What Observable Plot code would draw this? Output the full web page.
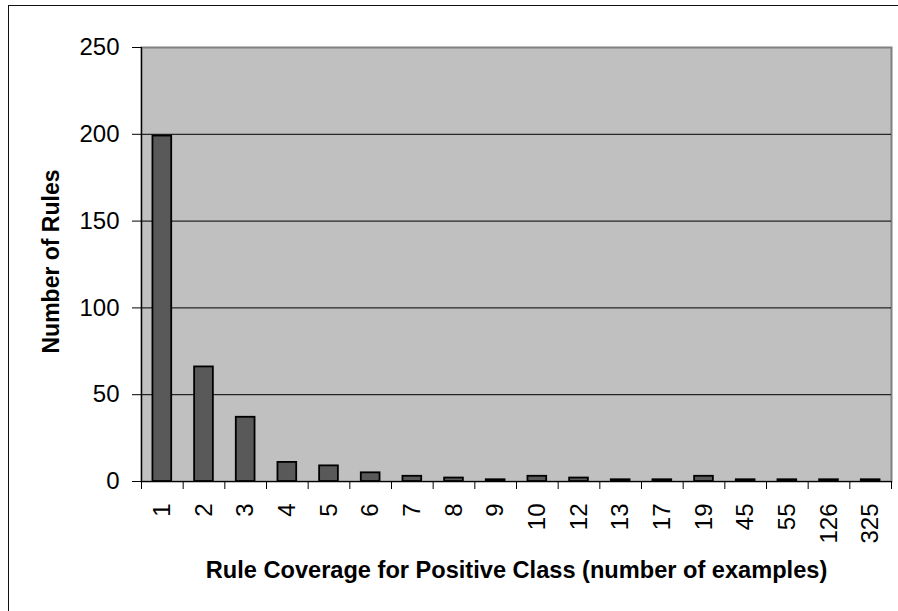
<!DOCTYPE html>
<html>
<head>
<meta charset="utf-8">
<script src="https://cdn.jsdelivr.net/npm/d3@7"></script>
<script src="https://cdn.jsdelivr.net/npm/@observablehq/plot@0.6"></script>
<style>
  html, body { margin: 0; padding: 0; background: #fff; }
  #wrap { position: relative; width: 898px; height: 611px; overflow: hidden; }
  #frame { position: absolute; left: 8px; top: 5px; width: 900px; height: 620px; border: 1.5px solid #111; box-sizing: border-box; }
  #chart { position: absolute; left: 0; top: 0; }
  svg { font-family: "Liberation Sans", Arial, sans-serif; }
</style>
</head>
<body>
<div id="wrap"><div id="frame"></div><div id="chart"></div></div>
<script>
const categories = ["1","2","3","4","5","6","7","8","9","10","12","13","17","19","45","55","126","325"];
const counts = [199, 66, 37, 11, 9, 5, 3, 2, 1, 3, 2, 1, 1, 3, 1, 1, 1, 1];
const yTicks = [0, 50, 100, 150, 200, 250];
const gridValues = [50, 100, 150, 200];
const xTitle = "Rule Coverage for Positive Class (number of examples)";
const yTitle = "Number of Rules";

const data = categories.map((c, i) => ({category: c, count: counts[i]}));
const boundaries = d3.range(categories.length + 1);

const plot = Plot.plot({
  width: 898,
  height: 611,
  marginLeft: 141,
  marginRight: 7,
  marginTop: 47,
  marginBottom: 130,
  style: {fontFamily: "Liberation Sans, Arial, sans-serif", background: "transparent"},
  x: {domain: [0, categories.length], axis: null},
  y: {domain: [0, 250], axis: null},
  marks: [
    Plot.frame({fill: "#c0c0c0", stroke: "#808080", strokeWidth: 2}),
    Plot.ruleY(gridValues, {stroke: "#000", strokeWidth: 1}),
    Plot.rectY(data, {
      x1: (d, i) => i + 0.275,
      x2: (d, i) => i + 0.725,
      y: "count",
      fill: "#595959",
      stroke: "#000",
      strokeWidth: 1.8
    }),
    Plot.ruleX([0], {stroke: "#000", strokeWidth: 1.2}),
    Plot.ruleY([0], {stroke: "#000", strokeWidth: 1.2}),
    Plot.axisY({
      ticks: yTicks,
      tickSize: 9,
      tickPadding: 13,
      fontSize: 24,
      tickFormat: d => String(d),
      label: null,
      stroke: "#000"
    }),
    Plot.axisX({
      ticks: boundaries,
      tickSize: 8,
      tickFormat: () => "",
      label: null,
      stroke: "#000"
    }),
    Plot.axisX({
      ticks: categories.map((c, i) => i + 0.5),
      tickSize: 0,
      tickPadding: 22,
      tickRotate: -90,
      fontSize: 24,
      tickFormat: d => categories[Math.round(d - 0.5)],
      label: null
    }),
    Plot.text([xTitle], {
      frameAnchor: "bottom",
      dy: 89,
      lineAnchor: "middle",
      textAnchor: "middle",
      fontSize: 23.6,
      fontWeight: "bold",
      fill: "#000"
    }),
    Plot.text([yTitle], {
      frameAnchor: "left",
      dx: -90,
      dy: -3,
      rotate: -90,
      textAnchor: "middle",
      lineAnchor: "middle",
      fontSize: 23,
      fontWeight: "bold",
      fill: "#000"
    })
  ]
});

document.getElementById("chart").appendChild(plot);
</script>
</body>
</html>
